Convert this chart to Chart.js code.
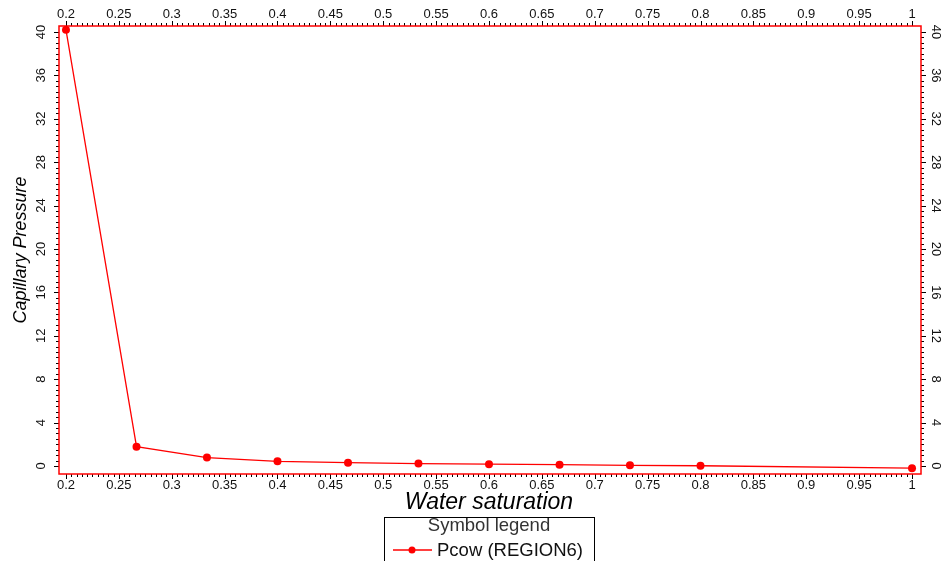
<!DOCTYPE html>
<html>
<head>
<meta charset="utf-8">
<script src="https://cdn.jsdelivr.net/npm/chart.js@4/dist/chart.umd.min.js"></script>
<style>
  html, body { margin: 0; padding: 0; background: #fff; }
  #wrap { width: 944px; height: 561px; position: relative; }
</style>
</head>
<body>
<div id="wrap"><canvas id="pc-chart"></canvas></div>
<script>
// data
const waterSat = [0.2, 0.2667, 0.3333, 0.4, 0.4667, 0.5333, 0.6, 0.6667, 0.7333, 0.8, 1.0];
const pcow = [40.2, 1.78, 0.77, 0.43, 0.3, 0.22, 0.17, 0.12, 0.06, 0.02, -0.2];

const xTickLabels = ["0.2", "0.25", "0.3", "0.35", "0.4", "0.45", "0.5", "0.55", "0.6", "0.65",
  "0.7", "0.75", "0.8", "0.85", "0.9", "0.95", "1"];
const yTickLabels = ["0", "4", "8", "12", "16", "20", "24", "28", "32", "36", "40"];

const seriesName = "Pcow (REGION6)";
const legendTitle = "Symbol legend";
const xTitle = "Water saturation";
const yTitle = "Capillary Pressure";

const RED = "#ff0000";
const FONT = "'Liberation Sans', Arial, sans-serif";

// frame, ticks, tick labels, titles and legend box
const axesPlugin = {
  id: "axesPlugin",
  afterDraw(chart) {
    const ctx = chart.ctx;
    const a = chart.chartArea;
    const xs = chart.scales.x, ys = chart.scales.y;
    ctx.save();

    // ticks
    ctx.strokeStyle = "#000";
    ctx.lineWidth = 1;
    ctx.beginPath();
    for (let i = 0; i <= 160; i++) {
      const v = 0.2 + i * 0.005;
      const px = Math.round(xs.getPixelForValue(v)) + 0.5;
      const len = i % 10 === 0 ? 5 : 3;
      ctx.moveTo(px, a.bottom); ctx.lineTo(px, a.bottom + len);
      ctx.moveTo(px, a.top); ctx.lineTo(px, a.top - len);
    }
    for (let i = 0; i <= 80; i++) {
      const v = i * 0.5;
      const py = Math.round(ys.getPixelForValue(v)) + 0.5;
      const len = i % 8 === 0 ? 5 : 3;
      ctx.moveTo(a.left, py); ctx.lineTo(a.left - len, py);
      ctx.moveTo(a.right, py); ctx.lineTo(a.right + len, py);
    }
    ctx.stroke();

    // frame
    ctx.strokeStyle = RED;
    ctx.lineWidth = 1.5;
    ctx.strokeRect(a.left, a.top, a.right - a.left, a.bottom - a.top);

    // x tick labels, top and bottom
    ctx.fillStyle = "#111";
    ctx.font = "13px " + FONT;
    ctx.textAlign = "center";
    ctx.textBaseline = "middle";
    xTickLabels.forEach((t) => {
      const px = xs.getPixelForValue(parseFloat(t));
      ctx.fillText(t, px, 485);
      ctx.fillText(t, px, 14);
    });

    // y tick labels, rotated
    yTickLabels.forEach((t) => {
      const py = ys.getPixelForValue(parseFloat(t));
      ctx.save();
      ctx.translate(41, py);
      ctx.rotate(-Math.PI / 2);
      ctx.fillText(t, 0, 0);
      ctx.restore();
      ctx.save();
      ctx.translate(936, py);
      ctx.rotate(Math.PI / 2);
      ctx.fillText(t, 0, 0);
      ctx.restore();
    });

    // axis titles
    ctx.fillStyle = "#000";
    ctx.font = "italic 23px " + FONT;
    ctx.fillText(xTitle, 489, 503);
    ctx.font = "italic 18px " + FONT;
    ctx.save();
    ctx.translate(21, 250);
    ctx.rotate(-Math.PI / 2);
    ctx.fillText(yTitle, 0, 0);
    ctx.restore();

    // legend box
    ctx.strokeStyle = "#000";
    ctx.lineWidth = 1;
    ctx.strokeRect(384.5, 517.5, 210, 50);
    ctx.font = "18.5px " + FONT;
    ctx.fillStyle = "#333";
    ctx.fillText(legendTitle, 489, 526);
    ctx.strokeStyle = RED;
    ctx.lineWidth = 1.5;
    ctx.beginPath();
    ctx.moveTo(393, 550); ctx.lineTo(432, 550);
    ctx.stroke();
    ctx.fillStyle = RED;
    ctx.beginPath();
    ctx.arc(412, 550, 3.5, 0, Math.PI * 2);
    ctx.fill();
    ctx.fillStyle = "#111";
    ctx.textAlign = "left";
    ctx.fillText(seriesName, 437, 551);

    ctx.restore();
  }
};

new Chart(document.getElementById("pc-chart"), {
  type: "line",
  data: {
    datasets: [{
      label: seriesName,
      data: waterSat.map((x, i) => ({ x: x, y: pcow[i] })),
      borderColor: RED,
      backgroundColor: RED,
      borderWidth: 1.3,
      pointRadius: 4,
      pointBorderWidth: 0,
      pointBackgroundColor: RED,
      fill: false,
      tension: 0,
    }],
  },
  options: {
    responsive: true,
    maintainAspectRatio: false,
    animation: false,
    events: [],
    layout: { padding: { left: 59, right: 23, top: 26, bottom: 87 } },
    plugins: { legend: { display: false }, tooltip: { enabled: false } },
    scales: {
      x: { type: "linear", display: false, min: 0.1934, max: 1.0085 },
      y: { type: "linear", display: false, min: -0.74, max: 40.55 },
    },
  },
  plugins: [axesPlugin],
});
</script>
</body>
</html>
